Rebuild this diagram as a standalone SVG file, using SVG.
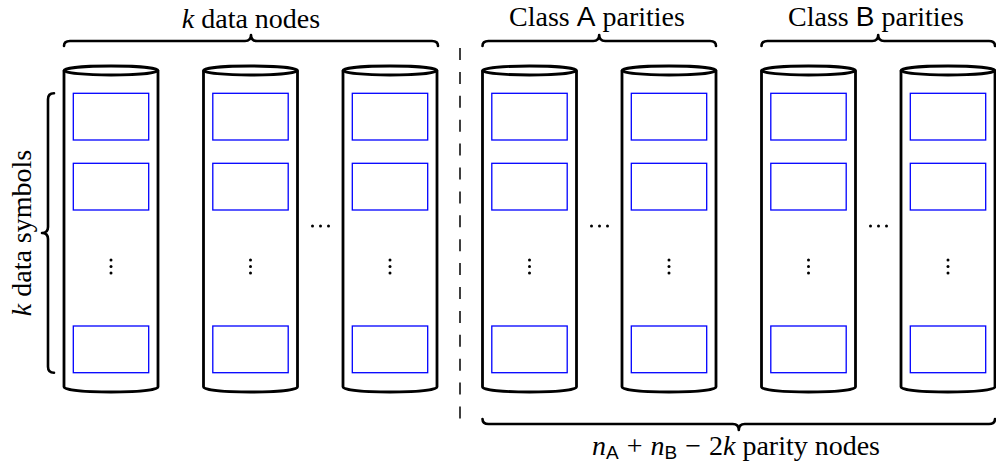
<svg xmlns="http://www.w3.org/2000/svg" width="996" height="463" viewBox="0 0 996 463">
<style>
.cyl{fill:none;stroke:#000;stroke-width:2.8}
.sym{fill:none;stroke:#0000ff;stroke-width:1.3}
.brace{fill:none;stroke:#000;stroke-width:2.6;stroke-linejoin:round;stroke-linecap:round}
.dot{fill:#000}
.t{font-family:"Liberation Serif","Times New Roman",serif;font-size:28px;fill:#000}
.i{font-style:italic}
.s{font-family:"Liberation Sans",Arial,sans-serif}
</style>
<defs>
<g id="cylinder">
<path class="cyl" d="M0,70.5 L0,387 A47,5 0 0 0 94,387 L94,70.5"/>
<ellipse class="cyl" cx="47" cy="70.5" rx="47" ry="4.5"/>
<rect class="sym" x="9.3" y="93.3" width="75.4" height="46.7"/>
<rect class="sym" x="9.3" y="163.3" width="75.4" height="46.7"/>
<rect class="sym" x="9.3" y="326" width="75.4" height="46.7"/>
<circle class="dot" cx="47" cy="260" r="1.5"/>
<circle class="dot" cx="47" cy="266.5" r="1.5"/>
<circle class="dot" cx="47" cy="273" r="1.5"/>
</g>
<g id="hdots">
<circle class="dot" cx="-8" cy="0" r="1.5"/>
<circle class="dot" cx="0" cy="0" r="1.5"/>
<circle class="dot" cx="8" cy="0" r="1.5"/>
</g>
</defs>
<g id="node-d1"><use href="#cylinder" x="64" y="0"/></g>
<g id="node-d2"><use href="#cylinder" x="203.5" y="0"/></g>
<g id="node-d3"><use href="#cylinder" x="343" y="0"/></g>
<g id="node-a1"><use href="#cylinder" x="482.5" y="0"/></g>
<g id="node-a2"><use href="#cylinder" x="622" y="0"/></g>
<g id="node-b1"><use href="#cylinder" x="761.5" y="0"/></g>
<g id="node-b2"><use href="#cylinder" x="901" y="0"/></g>
<g id="ellipses">
<use href="#hdots" x="320.5" y="226"/>
<use href="#hdots" x="599.5" y="226"/>
<use href="#hdots" x="878.5" y="226"/>
</g>
<g id="connectors">
<line x1="460" y1="48" x2="460" y2="420" stroke="#000" stroke-width="1.5" stroke-dasharray="12 11.9"/>
<path class="brace" d="M64,46 Q64,41 70,41 L245,41 Q251,41 251,35 Q251,41 257,41 L432,41 Q438,41 438,46"/>
<path class="brace" d="M482.5,46 Q482.5,41 488.5,41 L593.2,41 Q599.2,41 599.2,35 Q599.2,41 605.2,41 L710,41 Q716,41 716,46"/>
<path class="brace" d="M761.5,46 Q761.5,41 767.5,41 L872.2,41 Q878.2,41 878.2,35 Q878.2,41 884.2,41 L989,41 Q995,41 995,46"/>
<path class="brace" d="M482.5,419 Q482.5,424 488.5,424 L732.8,424 Q738.8,424 738.8,430 Q738.8,424 744.8,424 L989,424 Q995,424 995,419"/>
<path class="brace" d="M54,93.3 Q48,93.3 48,99.3 L48,227 Q48,233 42,233 Q48,233 48,239 L48,366.7 Q48,372.7 54,372.7"/>
</g>
<g id="labels">
<text class="t" x="251" y="28" text-anchor="middle"><tspan class="i">k</tspan> data nodes</text>
<text class="t" x="597" y="26" text-anchor="middle">Class <tspan class="s">A</tspan> parities</text>
<text class="t" x="876" y="26" text-anchor="middle">Class <tspan class="s">B</tspan> parities</text>
<text class="t" x="736" y="455" text-anchor="middle"><tspan class="i">n</tspan><tspan class="s" font-size="19" dy="4">A</tspan><tspan dy="-4" dx="8">+</tspan><tspan class="i" dx="8">n</tspan><tspan class="s" font-size="19" dy="4">B</tspan><tspan dy="-4" dx="8">−</tspan><tspan dx="8">2</tspan><tspan class="i">k</tspan> parity nodes</text>
<text class="t" transform="translate(31,233) rotate(-90)" text-anchor="middle"><tspan class="i">k</tspan> data symbols</text>
</g>
</svg>
